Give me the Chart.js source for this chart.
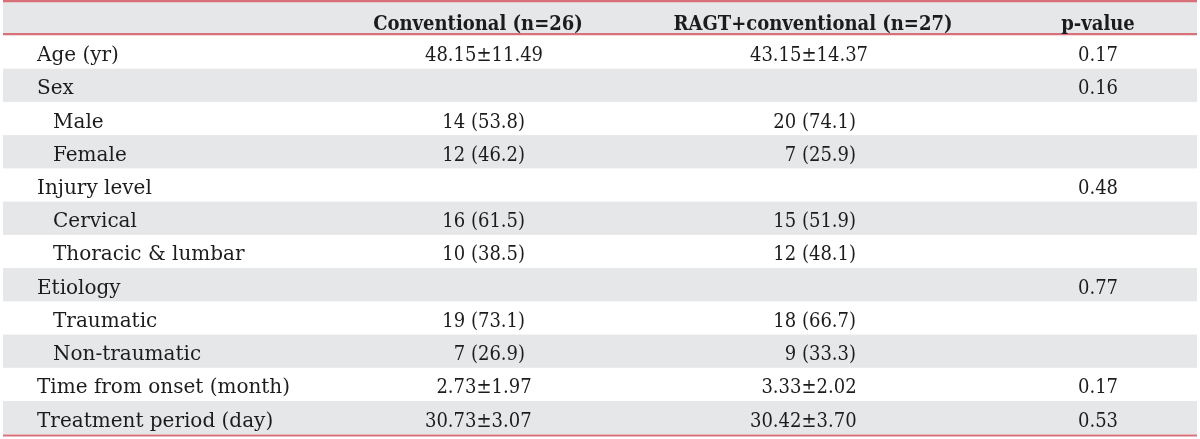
<!DOCTYPE html>
<html>
<head>
<meta charset="utf-8">
<script src="https://cdn.jsdelivr.net/npm/chart.js@4.4.1/dist/chart.umd.min.js"></script>
<style>
  html, body { margin: 0; padding: 0; background: #ffffff; }
  #wrap { width: 1200px; height: 439px; }
</style>
</head>
<body>
<div id="wrap"><canvas id="c" width="1200" height="439"></canvas></div>
<script>
// ---- table content ----
const headers = ['', 'Conventional (n=26)', 'RAGT+conventional (n=27)', 'p-value'];
const rowLabels = ['Age (yr)', 'Sex', 'Male', 'Female', 'Injury level', 'Cervical',
  'Thoracic & lumbar', 'Etiology', 'Traumatic', 'Non-traumatic',
  'Time from onset (month)', 'Treatment period (day)'];
const rowLevel = [0, 0, 1, 1, 0, 1, 1, 0, 1, 1, 0, 0];
const conventional = ['48.15±11.49', '', '14 (53.8)', '12 (46.2)', '', '16 (61.5)',
  '10 (38.5)', '', '19 (73.1)', '7 (26.9)', '2.73±1.97', '30.73±3.07'];
const ragtConventional = ['43.15±14.37', '', '20 (74.1)', '7 (25.9)', '', '15 (51.9)',
  '12 (48.1)', '', '18 (66.7)', '9 (33.3)', '3.33±2.02', '30.42±3.70'];
const pValues = ['0.17', '0.16', '', '', '0.48', '', '', '0.77', '', '', '0.17', '0.53'];

// ---- styling ----
const RED = '#d8707a';
const GRAY = '#e6e7e8';
const INK = '#1c1c1c';
const FAMILY = "'DejaVu Serif', 'Liberation Serif', serif";
const COND_FAMILY = "'DejaVu Serif Condensed', 'DejaVu Serif', serif";

// find a condensed face for numbers/headers
let condMode = 'family';
(function detect() {
  const c = document.createElement('canvas').getContext('2d');
  c.font = '20px ' + FAMILY;
  const w1 = c.measureText('30.73±3.07 Conventional').width;
  c.font = "20px 'DejaVu Serif Condensed'";
  const w2 = c.measureText('30.73±3.07 Conventional').width;
  if (Math.abs(w1 - w2) < 1 || w2 > w1) {
    condMode = 'stretch';
  }
})();
function setCond(ctx, weight, size) {
  if (condMode === 'family') {
    ctx.font = weight + ' ' + size + 'px ' + COND_FAMILY;
  } else {
    ctx.font = weight + ' ' + size + 'px ' + FAMILY;
    if ('fontStretch' in ctx) ctx.fontStretch = 'condensed';
  }
}
function setNormal(ctx, weight, size) {
  if ('fontStretch' in ctx) ctx.fontStretch = 'normal';
  ctx.font = weight + ' ' + size + 'px ' + FAMILY;
}

const tablePlugin = {
  id: 'tablePlugin',
  beforeDraw(chart) {
    const ctx = chart.ctx;
    const ys = chart.scales.y;
    const xs = chart.scales.x;
    const area = chart.chartArea;
    const left = xs.getPixelForValue(3), right = xs.getPixelForValue(1197);
    const band = (area.bottom - area.top) / rowLabels.length;
    ctx.save();
    ctx.fillStyle = '#ffffff';
    ctx.fillRect(0, 0, chart.width, chart.height);
    ctx.fillStyle = GRAY;
    ctx.fillRect(left, 1, right - left, area.top - 2);
    rowLabels.forEach((lab, i) => {
      if (i % 2 === 1) {
        const cy = ys.getPixelForValue(i);
        ctx.fillRect(left, cy - band / 2, right - left, band);
      }
    });
    ctx.restore();
  },
  afterDraw(chart) {
    const ctx = chart.ctx;
    const ys = chart.scales.y;
    const xs = chart.scales.x;
    const area = chart.chartArea;
    const left = xs.getPixelForValue(3), right = xs.getPixelForValue(1197);
    ctx.save();
    ctx.strokeStyle = RED;
    ctx.lineWidth = 2.2;
    [1.1, area.top - 1.2, area.bottom + 1.2].forEach(y => {
      ctx.beginPath(); ctx.moveTo(left, y); ctx.lineTo(right, y); ctx.stroke();
    });
    ctx.fillStyle = INK;
    ctx.textBaseline = 'alphabetic';
    // header
    setCond(ctx, 'bold', 20);
    ctx.textAlign = 'center';
    const headX = [0, 478, 813, 1098];
    headers.forEach((h, j) => {
      if (h) ctx.fillText(h, xs.getPixelForValue(headX[j]), 30);
    });
    // body
    const pmAnchor = [484, 809];
    const countRight = [525, 856];
    const drawValue = (txt, col, y) => {
      if (!txt) return;
      setCond(ctx, 'normal', 20);
      if (txt.indexOf('±') >= 0) {
        const parts = txt.split('±');
        const ax = xs.getPixelForValue(pmAnchor[col]);
        const pw = ctx.measureText('±').width;
        ctx.textAlign = 'right'; ctx.fillText(parts[0], ax - pw / 2, y);
        ctx.textAlign = 'center'; ctx.fillText('±', ax, y);
        ctx.textAlign = 'left'; ctx.fillText(parts[1], ax + pw / 2, y);
      } else {
        ctx.textAlign = 'right';
        ctx.fillText(txt, xs.getPixelForValue(countRight[col]), y);
      }
    };
    rowLabels.forEach((lab, i) => {
      const y = ys.getPixelForValue(i) + 9;
      setNormal(ctx, 'normal', 20);
      ctx.textAlign = 'left';
      ctx.fillText(lab, xs.getPixelForValue(rowLevel[i] ? 53 : 37), y);
      drawValue(conventional[i], 0, y);
      drawValue(ragtConventional[i], 1, y);
      if (pValues[i]) {
        setCond(ctx, 'normal', 20);
        ctx.textAlign = 'center';
        ctx.fillText(pValues[i], xs.getPixelForValue(1098), y);
      }
    });
    setNormal(ctx, 'normal', 20);
    ctx.restore();
  }
};

new Chart(document.getElementById('c'), {
  type: 'bar',
  data: { labels: rowLabels, datasets: [{ data: rowLabels.map(() => null) }] },
  options: {
    indexAxis: 'y',
    responsive: false,
    animation: false,
    devicePixelRatio: 1,
    layout: { padding: { top: 35.4, bottom: 4.7, left: 0, right: 0 } },
    plugins: { legend: { display: false }, tooltip: { enabled: false }, title: { display: false } },
    scales: {
      x: { type: 'linear', min: 0, max: 1200, display: false },
      y: { type: 'category', display: false, offset: true }
    }
  },
  plugins: [tablePlugin]
});
</script>
</body>
</html>
